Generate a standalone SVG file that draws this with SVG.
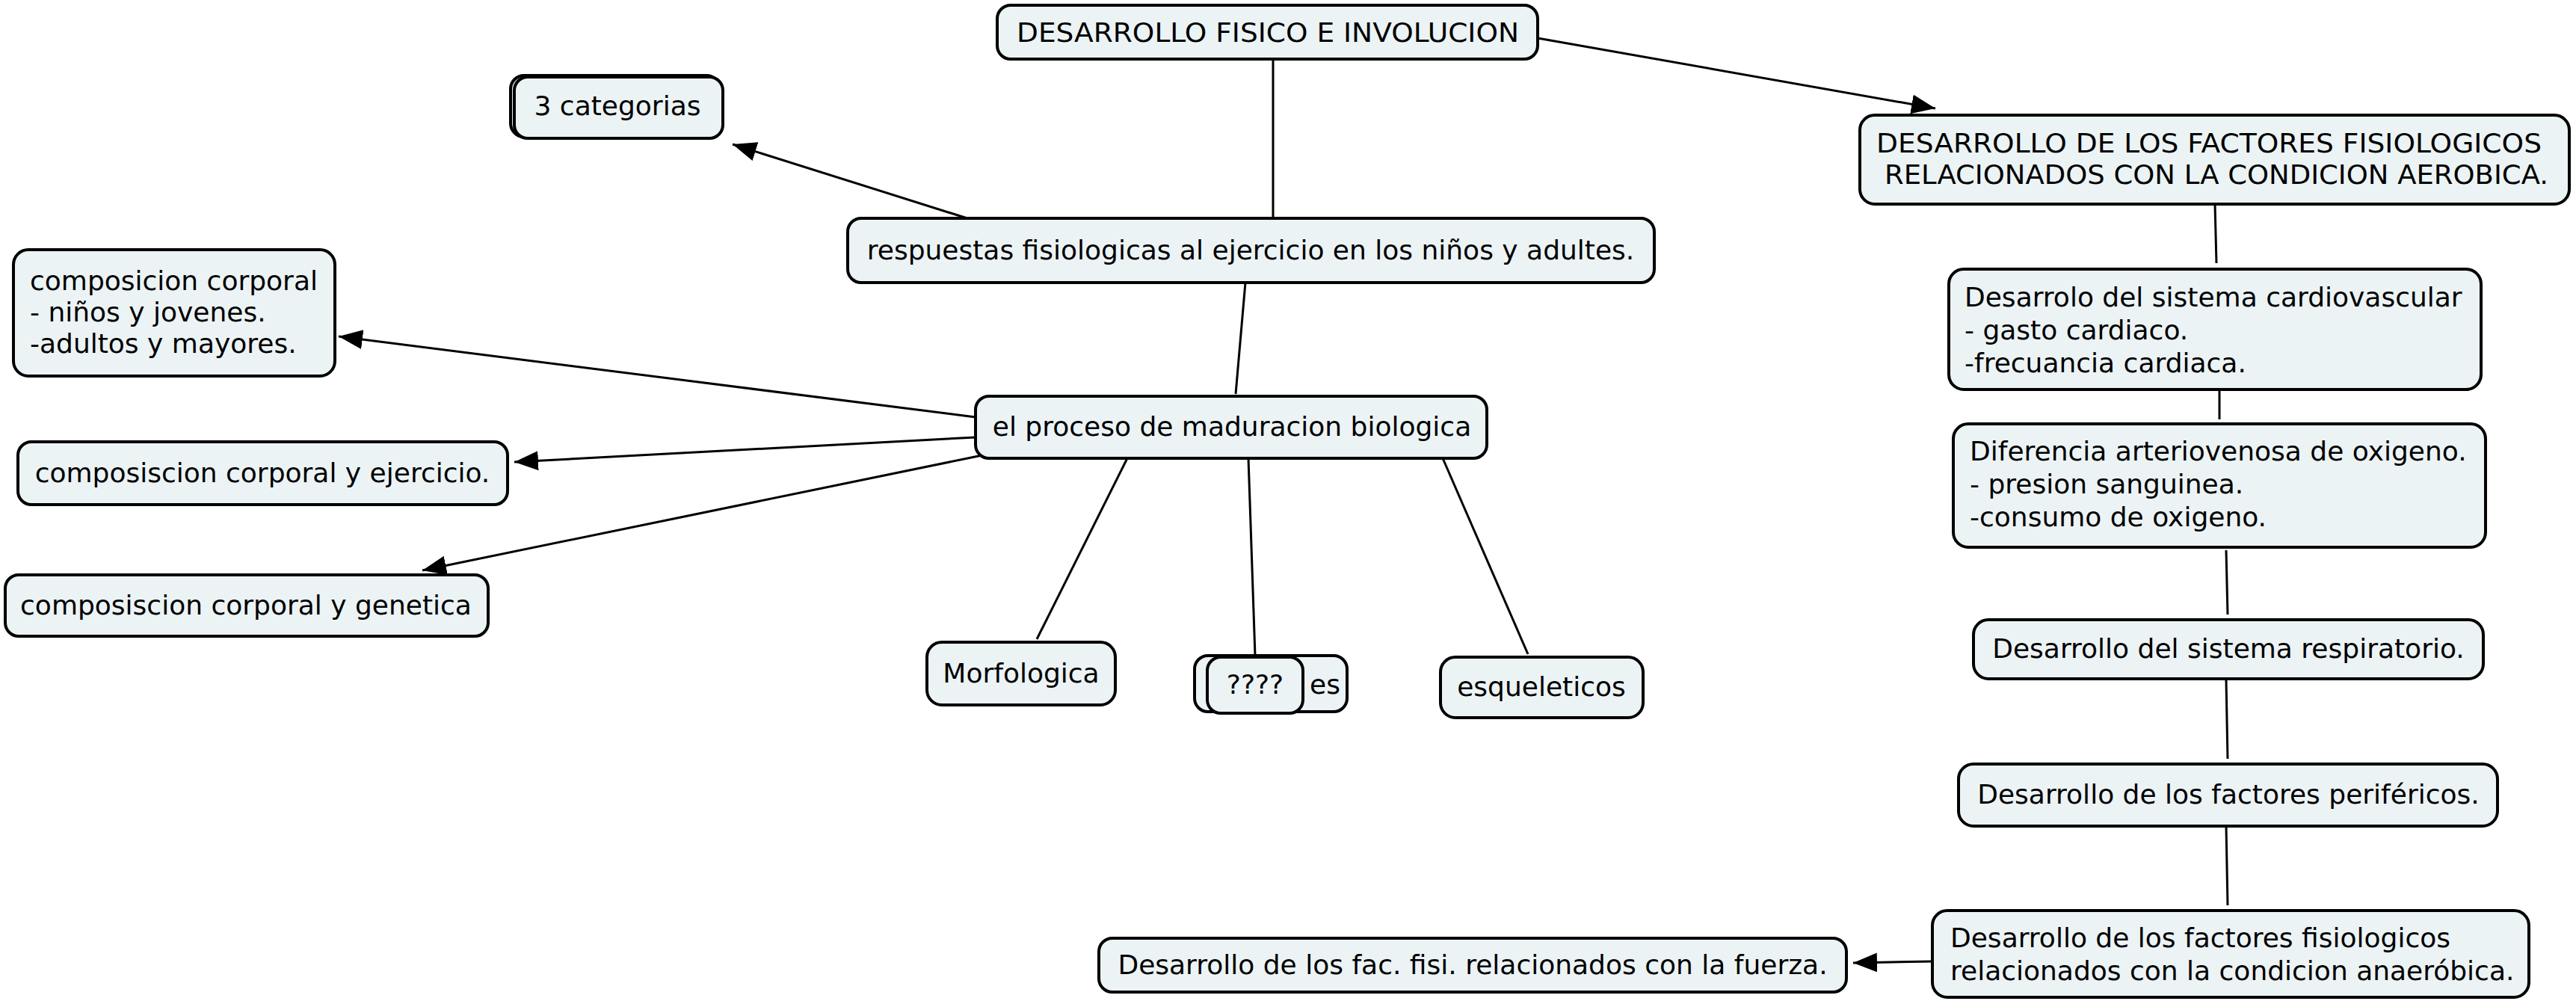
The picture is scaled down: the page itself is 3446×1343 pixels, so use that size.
<svg xmlns="http://www.w3.org/2000/svg" width="3446" height="1343" viewBox="0 0 3446 1343">
<style>
.n{fill:#ecf3f5;stroke:#000;stroke-width:4}
.t{font-family:"DejaVu Sans","Verdana",sans-serif;font-size:36px;fill:#000}
.c{stroke:#000;stroke-width:3;fill:none}
.a{marker-end:url(#ah)}
</style>
<defs>
<marker id="ah" markerUnits="userSpaceOnUse" markerWidth="34" markerHeight="28" refX="32" refY="13" orient="auto">
<path d="M0,0 L32,13 L0,26 Z" fill="#000"/>
</marker>
</defs>
<rect width="3446" height="1343" fill="#fff"/>
<g id="connectors">
<line class="c" x1="1703" y1="79" x2="1703" y2="292"/>
<line class="c a" x1="2057" y1="51" x2="2589" y2="145"/>
<line class="c a" x1="1294" y1="292" x2="980" y2="193"/>
<line class="c" x1="1666" y1="378" x2="1653" y2="527"/>
<line class="c a" x1="1305" y1="558" x2="453" y2="450"/>
<line class="c a" x1="1305" y1="585" x2="688" y2="618"/>
<line class="c a" x1="1314" y1="609" x2="565" y2="763"/>
<line class="c" x1="1508" y1="613" x2="1387" y2="855"/>
<line class="c" x1="1670" y1="613" x2="1679" y2="877"/>
<line class="c" x1="1930" y1="613" x2="2044" y2="875"/>
<line class="c" x1="2963" y1="273" x2="2965" y2="352"/>
<line class="c" x1="2969" y1="523" x2="2969" y2="561"/>
<line class="c" x1="2978" y1="736" x2="2980" y2="822"/>
<line class="c" x1="2978" y1="910" x2="2980" y2="1015"/>
<line class="c" x1="2978" y1="1105" x2="2980" y2="1211"/>
<line class="c a" x1="2585" y1="1286" x2="2479" y2="1288"/>
</g>
<g id="n1"><rect class="n" x="1334" y="7" width="723" height="72" rx="18"/><text class="t" x="1360" y="56" textLength="672" lengthAdjust="spacingAndGlyphs">DESARROLLO FISICO E INVOLUCION</text></g>
<g id="n2"><rect class="n" x="683" y="101" width="280" height="82" rx="18"/><rect class="n" x="688" y="103" width="279" height="82" rx="18"/><text class="t" x="826" y="154" text-anchor="middle">3 categorias</text></g>
<g id="n3"><rect class="n" x="1134" y="292" width="1079" height="86" rx="18"/><text class="t" x="1673" y="347" text-anchor="middle">respuestas fisiologicas al ejercicio en los niños y adultes.</text></g>
<g id="n4"><rect class="n" x="18" y="334" width="430" height="169" rx="20"/><text class="t" x="40" y="388">composicion corporal</text><text class="t" x="40" y="430">- niños y jovenes.</text><text class="t" x="40" y="472">-adultos y mayores.</text></g>
<g id="n5"><rect class="n" x="24" y="591" width="655" height="84" rx="18"/><text class="t" x="351" y="645" text-anchor="middle">composiscion corporal y ejercicio.</text></g>
<g id="n6"><rect class="n" x="7" y="769" width="646" height="82" rx="18"/><text class="t" x="329" y="822" text-anchor="middle">composiscion corporal y genetica</text></g>
<g id="n7"><rect class="n" x="1305" y="530" width="684" height="83" rx="18"/><text class="t" x="1648" y="583" text-anchor="middle">el proceso de maduracion biologica</text></g>
<g id="n8"><rect class="n" x="1240" y="859" width="252" height="84" rx="20"/><text class="t" x="1366" y="913" text-anchor="middle">Morfologica</text></g>
<g id="n9"><rect class="n" x="1598" y="877" width="204" height="75" rx="18"/><text class="t" x="1752" y="928">es</text></g>
<g id="n10"><rect class="n" x="1615" y="879" width="128" height="75" rx="18"/><text class="t" x="1679" y="928" text-anchor="middle">????</text></g>
<g id="n11"><rect class="n" x="1927" y="879" width="271" height="81" rx="20"/><text class="t" x="2062" y="931" text-anchor="middle">esqueleticos</text></g>
<g id="n12"><rect class="n" x="2488" y="154" width="949" height="119" rx="20"/><text class="t" x="2510" y="204" textLength="890" lengthAdjust="spacingAndGlyphs">DESARROLLO DE LOS FACTORES FISIOLOGICOS</text><text class="t" x="2521" y="246" textLength="888" lengthAdjust="spacingAndGlyphs">RELACIONADOS CON LA CONDICION AEROBICA.</text></g>
<g id="n13"><rect class="n" x="2607" y="360" width="712" height="161" rx="20"/><text class="t" x="2628" y="410">Desarrolo del sistema cardiovascular</text><text class="t" x="2628" y="454">- gasto cardiaco.</text><text class="t" x="2628" y="498">-frecuancia cardiaca.</text></g>
<g id="n14"><rect class="n" x="2613" y="567" width="712" height="165" rx="20"/><text class="t" x="2635" y="616">Diferencia arteriovenosa de oxigeno.</text><text class="t" x="2635" y="660">- presion sanguinea.</text><text class="t" x="2635" y="704">-consumo de oxigeno.</text></g>
<g id="n15"><rect class="n" x="2640" y="829" width="682" height="79" rx="20"/><text class="t" x="2981" y="880" text-anchor="middle">Desarrollo del sistema respiratorio.</text></g>
<g id="n16"><rect class="n" x="2620" y="1022" width="721" height="83" rx="20"/><text class="t" x="2981" y="1075" text-anchor="middle">Desarrollo de los factores periféricos.</text></g>
<g id="n17"><rect class="n" x="2585" y="1218" width="798" height="116" rx="20"/><text class="t" x="2609" y="1267">Desarrollo de los factores fisiologicos</text><text class="t" x="2609" y="1311">relacionados con la condicion anaeróbica.</text></g>
<g id="n18"><rect class="n" x="1470" y="1255" width="1000" height="72" rx="18"/><text class="t" x="1970" y="1303" text-anchor="middle">Desarrollo de los fac. fisi. relacionados con la fuerza.</text></g>
</svg>
